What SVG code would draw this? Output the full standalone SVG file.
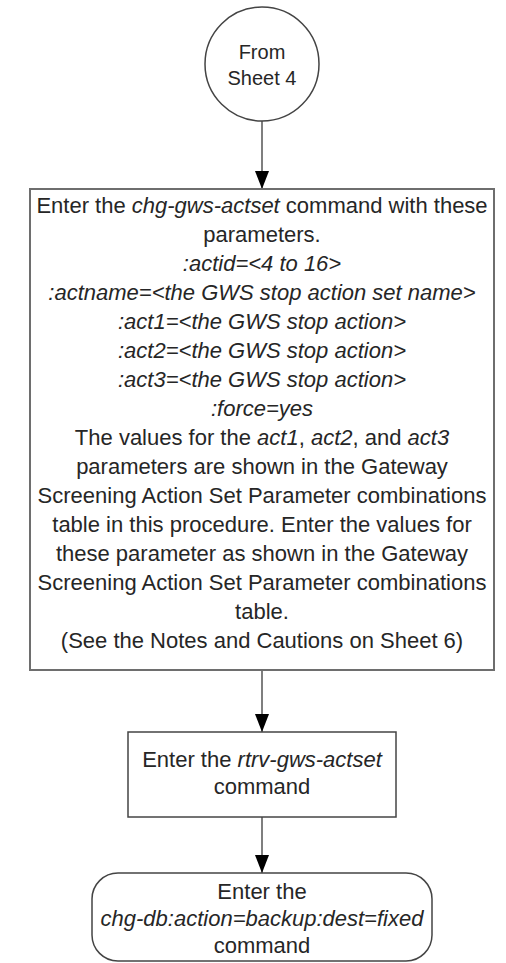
<svg xmlns="http://www.w3.org/2000/svg" width="506" height="963" viewBox="0 0 506 963">
<style>
.t{font-family:"Liberation Sans",Arial,sans-serif;font-size:22px;fill:#262626;text-anchor:middle}
.s{font-size:20px}
.i{font-style:italic}
.shape{fill:#fff;stroke:#444;stroke-width:1.5}
.big{fill:#fff;stroke:#6e6e6e;stroke-width:2}
.conn{stroke:#555;stroke-width:1.5;fill:none}
</style>
<defs>
<marker id="ah" markerWidth="18" markerHeight="14" refX="18" refY="7" orient="auto" markerUnits="userSpaceOnUse" viewBox="0 0 18 14">
<path d="M0,0 L18,7 L0,14 Z" fill="#000"/>
</marker>
</defs>
<rect width="506" height="963" fill="#fff"/>
<g id="connectors">
<line class="conn" x1="262" y1="121" x2="262" y2="189" marker-end="url(#ah)"/>
<line class="conn" x1="262" y1="670" x2="262" y2="732" marker-end="url(#ah)"/>
<line class="conn" x1="262" y1="817" x2="262" y2="873" marker-end="url(#ah)"/>
</g>
<g id="start">
<circle class="shape" cx="262" cy="64" r="57"/>
<text class="t s" x="262" y="59">From</text>
<text class="t s" x="262" y="85">Sheet 4</text>
</g>
<g id="change">
<rect class="big" x="30" y="189" width="464" height="481"/>
<text class="t" x="262" y="213">Enter the <tspan class="i">chg-gws-actset</tspan> command with these</text>
<text class="t" x="262" y="242">parameters.</text>
<text class="t i" x="262" y="271">:actid=&lt;4 to 16&gt;</text>
<text class="t i" x="262" y="300">:actname=&lt;the GWS stop action set name&gt;</text>
<text class="t i" x="262" y="329">:act1=&lt;the GWS stop action&gt;</text>
<text class="t i" x="262" y="358">:act2=&lt;the GWS stop action&gt;</text>
<text class="t i" x="262" y="387">:act3=&lt;the GWS stop action&gt;</text>
<text class="t i" x="262" y="416">:force=yes</text>
<text class="t" x="262" y="445">The values for the <tspan class="i">act1</tspan>, <tspan class="i">act2</tspan>, and <tspan class="i">act3</tspan></text>
<text class="t" x="262" y="474">parameters are shown in the Gateway</text>
<text class="t" x="262" y="503">Screening Action Set Parameter combinations</text>
<text class="t" x="262" y="532">table in this procedure. Enter the values for</text>
<text class="t" x="262" y="561">these parameter as shown in the Gateway</text>
<text class="t" x="262" y="590">Screening Action Set Parameter combinations</text>
<text class="t" x="262" y="619">table.</text>
<text class="t" x="262" y="648">(See the Notes and Cautions on Sheet 6)</text>
</g>
<g id="retrieve">
<rect class="shape" x="128" y="732" width="268" height="85"/>
<text class="t" x="262" y="767">Enter the <tspan class="i">rtrv-gws-actset</tspan></text>
<text class="t" x="262" y="794">command</text>
</g>
<g id="backup">
<rect class="shape" x="92" y="873" width="340" height="88" rx="26" ry="26"/>
<text class="t" x="262" y="899">Enter the</text>
<text class="t i" x="262" y="926">chg-db:action=backup:dest=fixed</text>
<text class="t" x="262" y="953">command</text>
</g>
</svg>
